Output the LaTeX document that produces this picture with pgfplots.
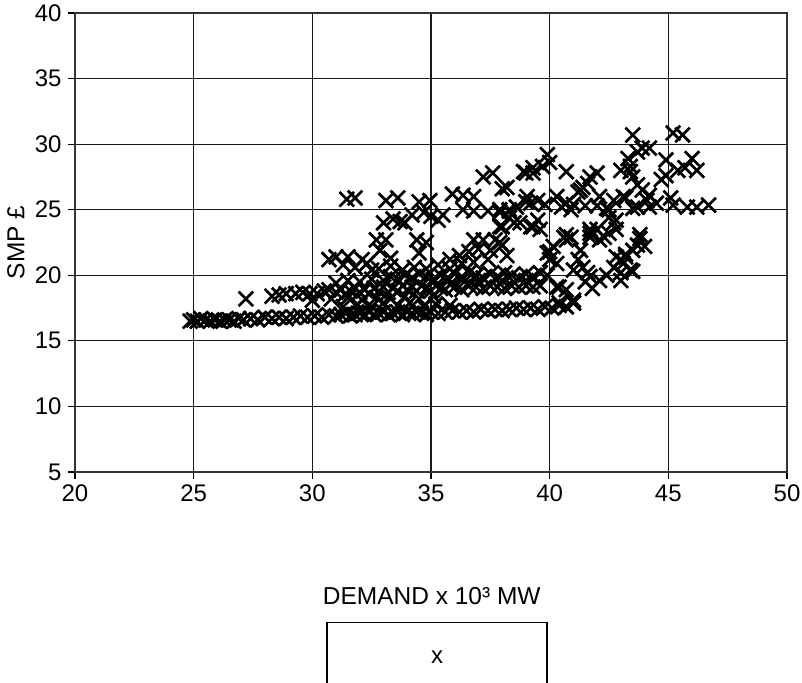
\documentclass[border=0pt]{standalone}
\usepackage{fontspec}
\setmainfont{Liberation Sans}
\usepackage{pgfplots}
\pgfplotsset{compat=1.18}
\begin{document}
\begin{tikzpicture}
\path[use as bounding box] (-75pt,-210pt) rectangle (727pt,472pt);
\clip (-75pt,-210pt) rectangle (727pt,472pt);
\begin{axis}[
  at={(0pt,0pt)}, anchor=south west,
  scale only axis, width=712pt, height=459pt,
  xmin=20, xmax=50, ymin=5, ymax=40,
  xtick={20,25,...,50}, ytick={5,10,...,40},
  xtick pos=bottom, ytick pos=left,
  tick align=outside, major tick length=7pt,
  every tick/.style={black, line width=1.1pt},
  grid=major, major grid style={black!90, line width=1.1pt},
  axis line style={black!80, line width=1.4pt},
  /pgf/number format/assume math mode=true,
  tick label style={font=\fontsize{24}{28}\selectfont},
  xticklabel style={yshift=-2pt},
  yticklabel style={xshift=-3pt},
  xlabel={DEMAND x 10³ MW},
  ylabel={SMP £},
  xlabel style={font=\fontsize{24.5}{28}\selectfont, at={(axis description cs:0.501,-0.27)}, anchor=center},
  ylabel style={font=\fontsize{24.5}{28}\selectfont, at={(axis description cs:-0.083,0.5)}, anchor=center, rotate=0},
]
\addplot[only marks, mark=x, mark size=10.3pt, line width=2.7pt, black] coordinates {
(24.85,16.5)(25.0,16.6)(25.15,16.5)(25.3,16.7)(25.5,16.6)(25.7,16.5)(25.9,16.6)(26.1,16.5)(26.3,16.6)(26.5,16.6)(26.7,16.5)(26.9,16.7)(27.1,16.6)(27.4,16.7)(27.7,16.6)(28.0,16.8)(28.3,16.7)(28.6,16.8)(28.9,16.7)(29.2,16.8)(29.5,16.9)(29.8,16.8)(30.1,16.9)(30.4,16.8)(30.7,17.0)(31.0,16.9)(31.2,17.0)(31.4,17.1)(31.6,16.9)(31.8,17.0)(32.0,17.1)(32.2,17.0)(32.4,17.2)(32.6,17.0)(32.8,17.1)(33.0,17.2)(33.2,17.0)(33.4,17.1)(33.6,17.2)(33.8,17.0)(34.0,17.2)(34.2,17.1)(34.4,17.2)(34.6,17.1)(34.8,17.0)(35.0,17.2)(35.3,17.1)(35.6,17.2)(35.9,17.3)(36.2,17.2)(36.5,17.3)(36.8,17.2)(37.1,17.4)(37.4,17.3)(37.7,17.4)(38.0,17.3)(38.3,17.4)(38.6,17.5)(38.9,17.4)(39.2,17.5)(39.5,17.4)(39.8,17.6)(40.1,17.5)(40.4,17.7)(40.7,17.6)(41.0,17.9)
(31.3,17.6)(31.9,17.8)(32.5,17.6)(33.0,17.9)(33.6,17.7)(34.1,17.9)(34.7,17.6)(35.2,17.8)(35.8,17.7)
(27.2,18.2)(28.3,18.4)(28.6,18.5)(28.9,18.6)(29.3,18.6)(29.6,18.7)(29.9,18.6)(30.2,18.6)(30.5,18.8)(30.7,18.9)(31.0,18.7)(31.2,18.9)(31.4,18.6)(31.6,18.8)(31.8,19.0)(32.0,18.7)(32.2,18.9)(32.4,18.6)(32.6,19.0)(32.8,18.8)(33.0,19.1)(33.2,18.7)(33.4,19.0)(33.6,18.8)(33.8,19.2)(34.0,18.9)(34.2,19.1)(34.4,18.8)(34.6,19.2)(34.8,19.0)(35.0,18.8)(35.2,19.2)(35.4,19.0)(35.6,18.9)(35.8,19.3)(36.0,19.1)(36.3,18.9)(36.6,19.2)(36.9,19.1)(37.2,19.0)(37.5,19.2)(37.8,19.1)(38.1,19.0)(38.4,19.2)(38.7,19.1)(39.0,19.2)(39.3,19.1)(39.6,19.2)
(30.0,18.1)(30.8,18.2)(31.5,18.3)(32.1,18.1)(32.7,18.3)(33.3,18.2)(33.9,18.4)(34.5,18.2)(35.1,18.4)
(31.0,19.4)(31.5,19.6)(32.0,19.5)(32.5,19.7)(33.0,19.6)(33.3,19.9)(33.6,19.7)(33.9,20.0)(34.2,19.8)(34.5,20.1)(34.8,19.9)(35.1,19.7)(35.4,20.0)(35.7,19.8)(36.0,20.1)(36.3,19.9)(36.6,20.2)(36.9,20.0)(37.2,19.8)(37.5,20.1)(37.8,19.9)(38.1,20.2)(38.4,20.0)(38.7,19.8)(39.0,20.1)(39.3,19.9)(39.6,20.2)(39.9,20.0)(37.0,19.6)(38.0,19.6)(39.0,19.6)(36.4,19.5)
(30.7,21.2)(31.3,20.8)(31.8,20.6)(32.3,20.9)(32.8,20.5)(33.3,20.7)(33.8,20.4)(34.3,20.6)(34.8,20.5)(35.3,20.8)(35.8,20.5)(36.3,20.9)(36.8,21.0)
(35.8,21.2)(36.2,21.5)(36.6,21.8)(37.0,22.0)(37.2,22.7)(37.5,21.9)(37.7,22.7)(37.9,22.5)(38.0,22.3)(38.2,21.5)(36.8,22.7)(37.4,21.2)
(31.0,21.4)(31.5,21.4)(32.1,21.2)(32.7,22.7)(33.1,22.7)(32.85,21.9)(34.4,22.7)(34.8,22.5)(34.5,21.7)(33.3,21.3)(32.5,20.4)
(33.0,24.0)(33.4,24.3)(33.7,24.1)(34.2,24.6)(34.7,24.8)(35.0,24.5)(35.5,24.6)(36.35,25.0)(36.8,24.9)(37.4,24.9)(37.9,24.8)(38.3,24.9)(38.0,23.7)(35.3,24.2)(33.9,24.0)
(31.45,25.8)(31.8,25.9)(33.1,25.7)(33.6,25.9)(34.5,25.6)(34.95,25.7)(35.9,26.2)(36.35,26.1)(36.8,26.0)(37.2,27.5)(37.6,27.8)(38.0,26.6)(38.2,26.7)
(38.9,27.9)(39.0,27.8)(39.3,28.2)(39.3,27.8)(39.7,28.3)(39.9,29.2)(40.0,28.6)(39.05,26.0)(39.5,25.7)(38.3,24.4)(38.75,24.0)(39.3,23.7)(39.6,23.5)(39.5,24.2)(38.5,24.0)(39.2,23.7)(38.0,22.3)(37.9,23.7)(38.3,25.0)(37.9,25.0)(39.0,25.6)(39.2,25.5)(39.8,25.4)(38.6,25.2)
(40.3,26.0)(40.7,25.5)(40.5,25.2)(41.0,25.4)(41.2,26.35)(41.4,26.7)(41.3,26.5)(41.6,27.0)(41.7,27.5)(42.0,27.8)(42.1,26.0)(42.4,25.1)(42.7,25.7)(42.5,25.0)(43.1,26.0)(43.2,25.9)(43.5,25.1)(43.7,25.2)(44.1,25.7)(44.2,25.2)(44.5,25.5)(45.1,25.9)(45.2,25.35)(45.8,25.2)(46.2,25.2)(46.7,25.35)(40.9,25.0)(41.5,25.3)(42.0,25.3)(40.7,27.9)(43.0,28.0)(43.4,27.9)(43.5,27.5)(43.7,26.9)(43.9,26.5)(44.2,26.1)
(43.5,30.7)(45.2,30.85)(45.6,30.7)(43.9,29.7)(43.7,29.4)(44.2,29.7)(43.3,28.9)(44.9,28.8)(46.0,28.9)(46.2,28.0)(45.7,28.2)(45.4,28.0)(44.9,27.6)(44.7,27.3)(43.4,28.3)
(42.5,24.4)(42.7,24.0)(42.8,23.5)(42.8,24.2)(41.7,23.5)(41.8,23.1)(40.7,23.1)(43.8,23.1)(41.7,23.2)(42.0,23.5)(42.1,22.7)(40.7,22.7)(40.9,22.9)(40.15,22.2)(39.9,21.7)(42.3,22.9)(42.5,23.2)(41.7,22.9)(41.3,21.9)(40.6,22.9)
(43.8,22.8)(43.7,22.3)(43.5,21.9)(43.2,21.4)(43.1,20.9)(43.5,20.3)(43.0,20.2)(43.0,19.6)(43.0,21.2)(42.7,20.6)(43.4,20.4)(41.8,19.0)(41.7,19.9)(41.2,21.2)(40.0,21.8)(40.3,20.9)(41.4,20.6)(40.3,19.1)(40.7,18.9)(41.0,17.9)(40.4,17.9)(42.8,21.4)(43.2,21.6)(44.0,22.2)(42.1,19.6)(41.6,20.2)(41.0,20.4)(40.0,21.2)(40.4,19.1)(40.7,17.6)(41.0,18.1)(42.4,20.0)(41.5,19.5)
};
\end{axis}
\node[draw=black, line width=1.2pt, minimum width=220pt, minimum height=120pt, anchor=north, inner sep=0pt] at (362pt,-150pt) {};
\node[font=\fontsize{24}{28}\selectfont] at (362pt,-185pt) {x};
\end{tikzpicture}
\end{document}
